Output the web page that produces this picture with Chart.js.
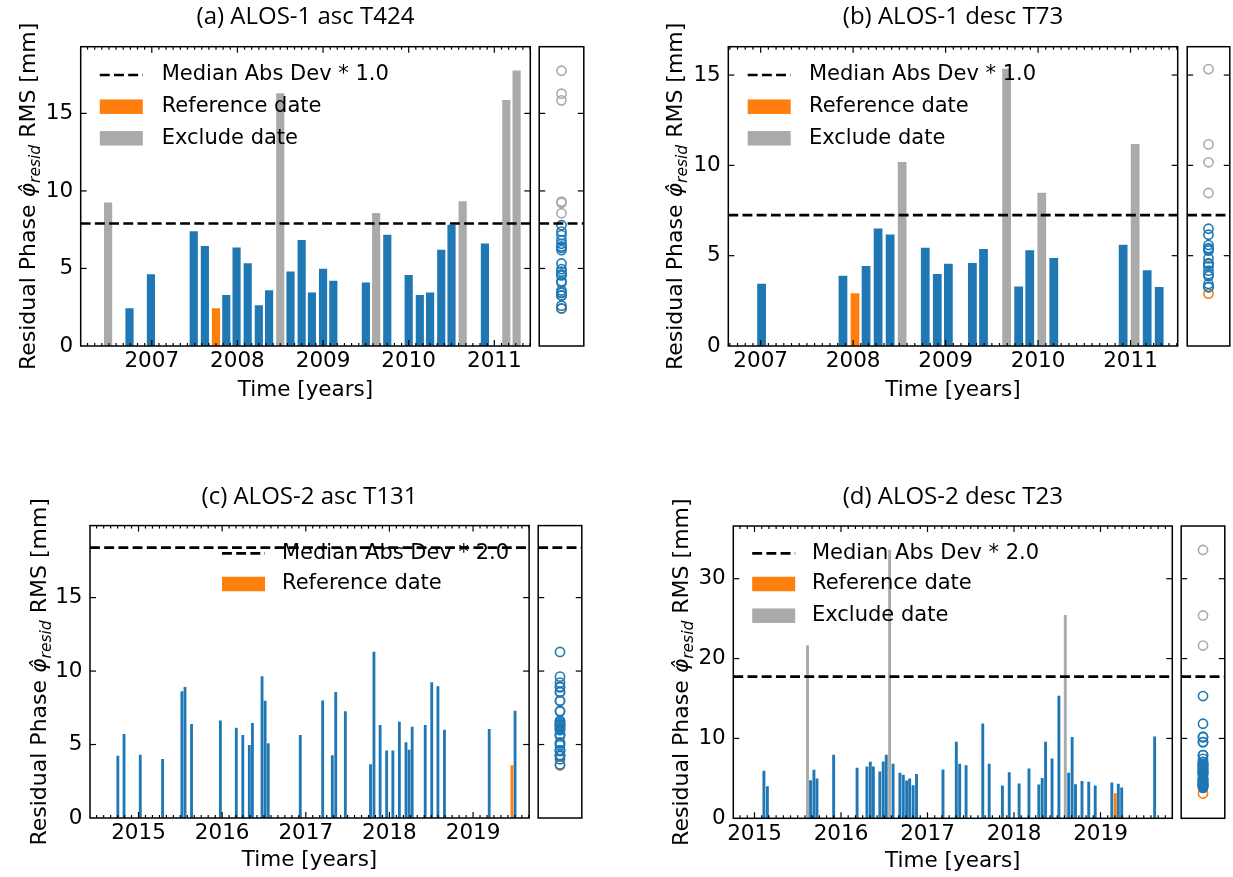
<!DOCTYPE html>
<html>
<head>
<meta charset="utf-8">
<title>Residual phase RMS per date</title>
<script src="https://cdn.jsdelivr.net/npm/chart.js@4.4.1/dist/chart.umd.min.js"></script>
<style>
  body { margin: 0; background: #fff; }
  #fig { position: relative; width: 1233px; height: 877px; overflow: hidden; background: #fff; }
  #fig canvas { position: absolute; }
</style>
</head>
<body>
<div id="fig"></div>
<script>
// ---- (a) ALOS-1 asc T424 : dates in decimal years, RMS in mm ----
const aKeepDates = [2006.74, 2006.99, 2007.49, 2007.62, 2007.87, 2007.99, 2008.12, 2008.25, 2008.37, 2008.62, 2008.75,
                    2008.87, 2009.00, 2009.12, 2009.50, 2009.75, 2010.00, 2010.13, 2010.25, 2010.38, 2010.50, 2010.89];
const aKeepRms   = [2.42, 4.61, 7.38, 6.42, 3.26, 6.33, 5.32, 2.60, 3.58, 4.79, 6.82,
                    3.43, 4.96, 4.18, 4.08, 7.15, 4.55, 3.26, 3.43, 6.18, 7.79, 6.59];
const aExclDates = [2006.49, 2008.50, 2009.62, 2010.63, 2011.14, 2011.26];
const aExclRms   = [9.23, 16.27, 8.56, 9.31, 15.84, 17.75];
const aRefDates  = [2007.75];
const aRefRms    = [2.42];
const aMad = 7.9;

// ---- (b) ALOS-1 desc T73 ----
const bKeepDates = [2007.01, 2007.89, 2008.14, 2008.27, 2008.40, 2008.78, 2008.91, 2009.03, 2009.29, 2009.41,
                    2009.79, 2009.91, 2010.17, 2010.92, 2011.18, 2011.31];
const bKeepRms   = [3.43, 3.87, 4.41, 6.49, 6.16, 5.42, 3.97, 4.54, 4.58, 5.35,
                    3.27, 5.28, 4.85, 5.59, 4.17, 3.25];
const bExclDates = [2008.53, 2009.66, 2010.04, 2011.05];
const bExclRms   = [10.17, 15.33, 8.47, 11.16];
const bRefDates  = [2008.02];
const bRefRms    = [2.90];
const bMad = 7.25;

// ---- (c) ALOS-2 asc T131 ----
const cKeepDates = [2014.753, 2014.827, 2015.021, 2015.288, 2015.519, 2015.556, 2015.634, 2015.979, 2016.169, 2016.247,
                    2016.325, 2016.362, 2016.477, 2016.514, 2016.551, 2016.934, 2017.202, 2017.317, 2017.358, 2017.473,
                    2017.774, 2017.815, 2017.889, 2017.967, 2018.041, 2018.119, 2018.198, 2018.235, 2018.272, 2018.428,
                    2018.506, 2018.580, 2018.658, 2019.193, 2019.502];
const cKeepRms   = [4.21, 5.69, 4.28, 4.00, 8.60, 8.89, 6.37, 6.62, 6.12, 5.62,
                    4.94, 6.44, 9.62, 7.96, 5.07, 5.62, 7.98, 4.25, 8.55, 7.25,
                    3.64, 11.30, 6.30, 4.57, 4.57, 6.53, 5.14, 4.62, 6.19, 6.30,
                    9.21, 8.94, 5.98, 6.03, 7.28];
const cExclDates = [];
const cExclRms   = [];
const cRefDates  = [2019.465];
const cRefRms    = [3.57];
const cMad = 18.4;

// ---- (d) ALOS-2 desc T23 ----
const dKeepDates = [2015.109, 2015.149, 2015.648, 2015.687, 2015.722, 2015.915, 2016.186, 2016.300, 2016.339, 2016.374,
                    2016.449, 2016.488, 2016.523, 2016.602, 2016.681, 2016.720, 2016.759, 2016.794, 2016.834, 2016.873,
                    2017.179, 2017.333, 2017.372, 2017.446, 2017.639, 2017.713, 2017.866, 2017.945, 2018.059, 2018.173,
                    2018.287, 2018.326, 2018.365, 2018.440, 2018.519, 2018.632, 2018.672, 2018.711, 2018.786, 2018.864,
                    2018.939, 2019.131, 2019.206, 2019.245, 2019.626];
const dKeepRms   = [5.90, 3.97, 4.73, 6.03, 4.94, 7.91, 6.28, 6.44, 7.03, 6.44,
                    5.82, 7.07, 7.91, 6.78, 5.65, 5.40, 4.69, 4.94, 4.10, 5.52,
                    6.07, 9.54, 6.78, 6.61, 11.84, 6.78, 4.06, 5.73, 4.31, 6.19,
                    4.18, 5.02, 9.54, 7.45, 15.31, 5.65, 10.13, 4.23, 4.64, 4.52,
                    4.06, 4.44, 4.27, 3.81, 10.21];
const dExclDates = [2015.613, 2016.562, 2018.593];
const dExclRms   = [21.63, 33.6, 25.4];
const dRefDates  = [2019.171];
const dRefRms    = [3.1];
const dMad = 17.74;

const BLUE = '#1f77b4', ORANGE = '#ff7f0e', GREY = '#aaaaaa';
const FONT = "'DejaVu Sans', sans-serif";
const DASH = [9.9, 4.3];
const LW = 2.67;

// panel layout: canvas box (cx, cy, cw, ch) and plot box (L, R, T, B) in page pixels
const panels = [
  { title: '(a) ALOS-1 asc T424', keep: [aKeepDates, aKeepRms], excl: [aExclDates, aExclRms], ref: [aRefDates, aRefRms],
    mad: aMad, madLabel: 'Median Abs Dev * 1.0', xmin: 2006.17, xmax: 2011.42, ymax: 19.3, yStep: 5, barDays: 32,
    cx: 0, cy: 0, cw: 536, ch: 420, L: 80.7, R: 530.3, T: 46.7, B: 346, sL: 539, sR: 584,
    titleY: 17, xlabY: 390, ylabX: 27, legX: 99.8, legTextX: 161.7, legY: [75, 106.7, 138.3] },
  { title: '(b) ALOS-1 desc T73', keep: [bKeepDates, bKeepRms], excl: [bExclDates, bExclRms], ref: [bRefDates, bRefRms],
    mad: bMad, madLabel: 'Median Abs Dev * 1.0', xmin: 2006.65, xmax: 2011.51, ymax: 16.57, yStep: 5, barDays: 32,
    cx: 620, cy: 0, cw: 562, ch: 420, L: 728.3, R: 1177.7, T: 46.7, B: 346, sL: 1186.7, sR: 1230,
    titleY: 17, xlabY: 390, ylabX: 674, legX: 747.7, legTextX: 809, legY: [75, 106.7, 138.3] },
  { title: '(c) ALOS-2 asc T131', keep: [cKeepDates, cKeepRms], excl: [cExclDates, cExclRms], ref: [cRefDates, cRefRms],
    mad: cMad, madLabel: 'Median Abs Dev * 2.0', xmin: 2014.42, xmax: 2019.67, ymax: 19.9, yStep: 5, barDays: 9.5,
    cx: 0, cy: 470, cw: 534, ch: 407, L: 90, R: 529.1, T: 525.6, B: 818, sL: 538.3, sR: 582.3,
    titleY: 497, xlabY: 860, ylabX: 37.5, legX: 222, legTextX: 282, legY: [553.3, 584] },
  { title: '(d) ALOS-2 desc T23', keep: [dKeepDates, dKeepRms], excl: [dExclDates, dExclRms], ref: [dRefDates, dRefRms],
    mad: dMad, madLabel: 'Median Abs Dev * 2.0', xmin: 2014.755, xmax: 2019.83, ymax: 36.6, yStep: 10, barDays: 9.5,
    cx: 620, cy: 470, cw: 556, ch: 407, L: 733.3, R: 1172.3, T: 526, B: 818.3, sL: 1180.5, sR: 1225,
    titleY: 497, xlabY: 861, ylabX: 679.7, legX: 752.2, legTextX: 812, legY: [553.3, 584, 615.7] }
];

// box around the plot with inward ticks on every side
const frameTicks = {
  id: 'frameTicks',
  afterDatasetsDraw(chart, args, o) {
    const { ctx, chartArea: a, scales } = chart;
    const seg = (x1, y1, x2, y2) => { ctx.beginPath(); ctx.moveTo(x1, y1); ctx.lineTo(x2, y2); ctx.stroke(); };
    ctx.save();
    ctx.strokeStyle = '#000';
    ctx.lineWidth = 1.2;
    for (let v = o.yStep; v < scales.y.max; v += o.yStep) {
      const py = scales.y.getPixelForValue(v);
      seg(a.left, py, a.left + 6, py);
      seg(a.right, py, a.right - 6, py);
    }
    if (o.years) {
      const x = scales.x;
      for (let m = Math.ceil(x.min * 12); m <= Math.floor(x.max * 12); m++) {
        const px = x.getPixelForValue(m / 12);
        const len = m % 12 === 0 ? 6 : 3;
        seg(px, a.bottom, px, a.bottom - len);
        seg(px, a.top, px, a.top + len);
      }
    }
    ctx.lineWidth = 1.5;
    ctx.strokeRect(a.left, a.top, a.right - a.left, a.bottom - a.top);
    ctx.restore();
  }
};

// legend without frame, laid over the data
const boxLegend = {
  id: 'boxLegend',
  afterDatasetsDraw(chart, args, o) {
    const ctx = chart.ctx;
    ctx.save();
    ctx.font = '21px ' + FONT;
    ctx.textBaseline = 'middle';
    ctx.textAlign = 'left';
    let row = 0;
    chart.data.datasets.forEach(ds => {
      if (!ds.label || !ds.data.length) return;
      const y = o.rows[row++];
      if (ds.type === 'line') {
        ctx.strokeStyle = ds.borderColor;
        ctx.lineWidth = ds.borderWidth;
        ctx.setLineDash(ds.borderDash);
        ctx.beginPath(); ctx.moveTo(o.x, y); ctx.lineTo(o.x + 43, y); ctx.stroke();
        ctx.setLineDash([]);
      } else {
        ctx.fillStyle = ds.backgroundColor;
        ctx.fillRect(o.x, y - 7.25, 43, 14.5);
      }
      ctx.fillStyle = '#000';
      ctx.fillText(ds.label, o.textX, y);
    });
    ctx.restore();
  }
};

// title, x label and the rotated y label with its math part
const panelText = {
  id: 'panelText',
  afterDraw(chart, args, o) {
    const { ctx, chartArea: a } = chart;
    const mid = (a.left + a.right) / 2;
    ctx.save();
    ctx.fillStyle = '#000';
    ctx.textAlign = 'center';
    ctx.textBaseline = 'middle';
    ctx.font = "24px 'Open Sans', sans-serif";
    ctx.fillText(o.title, mid, o.titleY);
    ctx.font = '21.5px ' + FONT;
    ctx.fillText('Time [years]', mid, o.xlabY);

    const parts = [
      ['Residual Phase ', '22px ' + FONT, 0],
      ['\u03c6\u0302', 'italic 22px ' + FONT, 0],
      ['resid', 'italic 15.5px ' + FONT, 5],
      [' RMS [mm]', '22px ' + FONT, 0]
    ];
    ctx.textAlign = 'left';
    ctx.textBaseline = 'alphabetic';
    let total = 0;
    parts.forEach(p => { ctx.font = p[1]; total += ctx.measureText(p[0]).width; });
    ctx.translate(o.ylabX, (a.top + a.bottom) / 2);
    ctx.rotate(-Math.PI / 2);
    let x = -total / 2;
    parts.forEach(p => {
      ctx.font = p[1];
      ctx.fillText(p[0], x, 8 + p[2]);
      x += ctx.measureText(p[0]).width;
    });
    ctx.restore();
  }
};

const fig = document.getElementById('fig');
Chart.defaults.font.family = FONT;
Chart.defaults.font.size = 21;
Chart.defaults.color = '#000';

function pts(xs, ys) {
  return xs.map((x, i) => ({ x: x, y: ys[i] }));
}

function addCanvas(x, y, w, h) {
  const cv = document.createElement('canvas');
  cv.width = w; cv.height = h;
  cv.style.left = x + 'px'; cv.style.top = y + 'px';
  cv.style.width = w + 'px'; cv.style.height = h + 'px';
  fig.appendChild(cv);
  return cv;
}

// tick values at whole steps inside [lo, hi]
function steps(lo, hi, step) {
  const out = [];
  for (let v = Math.ceil(lo / step) * step; v <= hi + 1e-9; v += step) out.push({ value: v });
  return out;
}

function drawPanel(p) {
  const barPx = p.barDays / 365.25 * (p.R - p.L) / (p.xmax - p.xmin);
  const bar = (label, color, xs, ys) => ({
    label: label, data: pts(xs, ys), backgroundColor: color, borderWidth: 0,
    barThickness: barPx, grouped: false, order: 1
  });
  const madLine = {
    type: 'line', label: p.madLabel, data: [{ x: p.xmin, y: p.mad }, { x: p.xmax, y: p.mad }],
    borderColor: '#000', borderWidth: LW, borderDash: DASH, pointRadius: 0, fill: false, order: 0
  };

  // main bar plot
  new Chart(addCanvas(p.cx, p.cy, p.cw, p.ch), {
    type: 'bar',
    data: {
      datasets: [
        madLine,
        bar('Reference date', ORANGE, p.ref[0], p.ref[1]),
        bar('Exclude date', GREY, p.excl[0], p.excl[1]),
        bar('', BLUE, p.keep[0], p.keep[1])
      ]
    },
    options: {
      responsive: false, animation: false, devicePixelRatio: 1,
      layout: { padding: { left: 0, bottom: 0, top: p.T - p.cy, right: p.cx + p.cw - p.R } },
      plugins: {
        legend: { display: false }, tooltip: { enabled: false },
        frameTicks: { yStep: p.yStep, years: true },
        boxLegend: { x: p.legX - p.cx, textX: p.legTextX - p.cx, rows: p.legY.map(v => v - p.cy) },
        panelText: { title: p.title, titleY: p.titleY - p.cy, xlabY: p.xlabY - p.cy, ylabX: p.ylabX - p.cx }
      },
      scales: {
        x: {
          type: 'linear', min: p.xmin, max: p.xmax, offset: false,
          grid: { display: false, drawTicks: false }, border: { display: false },
          ticks: { padding: 3, autoSkip: false, maxRotation: 0, font: { size: 21.5 }, callback: v => String(Math.round(v)) },
          afterBuildTicks: s => { s.ticks = steps(p.xmin, p.xmax, 1); },
          afterFit: s => { s.height = p.cy + p.ch - p.B; }
        },
        y: {
          min: 0, max: p.ymax,
          grid: { display: false, drawTicks: false }, border: { display: false },
          ticks: { padding: 7.5, font: { size: 21.5 }, callback: v => String(Math.round(v)) },
          afterBuildTicks: s => { s.ticks = steps(0, p.ymax, p.yStep); },
          afterFit: s => { s.width = p.L - p.cx; }
        }
      }
    },
    plugins: [frameTicks, boxLegend, panelText]
  });

  // side strip: the same RMS values stacked on one column
  const circ = (color, xs, ys) => ({
    data: ys.map(v => ({ x: 0, y: v })), borderColor: color, backgroundColor: 'rgba(0,0,0,0)',
    pointRadius: 4.6, borderWidth: 1.6, pointStyle: 'circle', order: 1
  });
  const sx = p.sL - 6, sw = p.sR - p.sL + 12;
  new Chart(addCanvas(sx, p.cy, sw, p.ch), {
    type: 'scatter',
    data: {
      datasets: [
        Object.assign({}, madLine, { label: '', data: [{ x: -1, y: p.mad }, { x: 1, y: p.mad }] }),
        circ(GREY, p.excl[0], p.excl[1]),
        circ(BLUE, p.keep[0], p.keep[1]),
        circ(ORANGE, p.ref[0], p.ref[1])
      ]
    },
    options: {
      responsive: false, animation: false, devicePixelRatio: 1,
      layout: { padding: { left: 6, right: 6, top: p.T - p.cy, bottom: p.cy + p.ch - p.B } },
      plugins: { legend: { display: false }, tooltip: { enabled: false }, frameTicks: { yStep: p.yStep, years: false } },
      scales: {
        x: { type: 'linear', min: -1, max: 1, display: false },
        y: { min: 0, max: p.ymax, display: false }
      }
    },
    plugins: [frameTicks]
  });
}

panels.forEach(drawPanel);
</script>
</body>
</html>
